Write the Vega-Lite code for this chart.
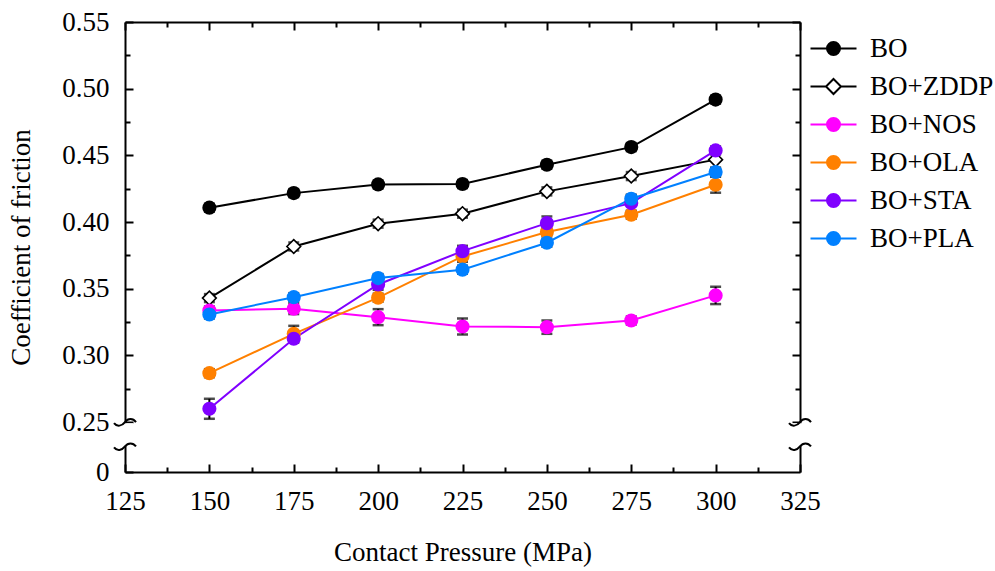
{
  "$schema": "https://vega.github.io/schema/vega-lite/v6.json",
  "width": 675,
  "height": 450,
  "autosize": {"type": "none"},
  "padding": {"left": 125, "top": 22, "right": 195, "bottom": 99},
  "background": "white",
  "config": {
    "view": {"stroke": null},
    "font": "Liberation Serif",
    "legend": {"labelFont": "Liberation Serif", "labelFontSize": 27, "labelColor": "black"},
    "axis": {
      "grid": false,
      "domainColor": "black",
      "domainWidth": 2,
      "tickColor": "black",
      "tickWidth": 2,
      "labelFont": "Liberation Serif",
      "labelFontSize": 27,
      "labelColor": "black",
      "titleFont": "Liberation Serif",
      "titleFontSize": 27,
      "titleFontWeight": "normal",
      "titleColor": "black"
    }
  },
  "data": {
    "values": [
      {"p": 150, "s": "BO", "v": 0.4108, "e": 0.003},
      {"p": 175, "s": "BO", "v": 0.4217, "e": 0.003},
      {"p": 200, "s": "BO", "v": 0.4282, "e": 0.003},
      {"p": 225, "s": "BO", "v": 0.4285, "e": 0.003},
      {"p": 250, "s": "BO", "v": 0.443, "e": 0.003},
      {"p": 275, "s": "BO", "v": 0.4562, "e": 0.003},
      {"p": 300, "s": "BO", "v": 0.4918, "e": 0.003},
      {"p": 150, "s": "BO+ZDDP", "v": 0.343, "e": 0.003},
      {"p": 175, "s": "BO+ZDDP", "v": 0.3817, "e": 0.003},
      {"p": 200, "s": "BO+ZDDP", "v": 0.3988, "e": 0.003},
      {"p": 225, "s": "BO+ZDDP", "v": 0.4063, "e": 0.003},
      {"p": 250, "s": "BO+ZDDP", "v": 0.423, "e": 0.003},
      {"p": 275, "s": "BO+ZDDP", "v": 0.4345, "e": 0.003},
      {"p": 300, "s": "BO+ZDDP", "v": 0.4468, "e": 0.006},
      {"p": 150, "s": "BO+NOS", "v": 0.3337, "e": 0.003},
      {"p": 175, "s": "BO+NOS", "v": 0.335, "e": 0.004},
      {"p": 200, "s": "BO+NOS", "v": 0.3287, "e": 0.006},
      {"p": 225, "s": "BO+NOS", "v": 0.3217, "e": 0.006},
      {"p": 250, "s": "BO+NOS", "v": 0.3212, "e": 0.005},
      {"p": 275, "s": "BO+NOS", "v": 0.3262, "e": 0.003},
      {"p": 300, "s": "BO+NOS", "v": 0.345, "e": 0.0065},
      {"p": 150, "s": "BO+OLA", "v": 0.2867, "e": 0.003},
      {"p": 175, "s": "BO+OLA", "v": 0.3162, "e": 0.006},
      {"p": 200, "s": "BO+OLA", "v": 0.3433, "e": 0.003},
      {"p": 225, "s": "BO+OLA", "v": 0.3742, "e": 0.004},
      {"p": 250, "s": "BO+OLA", "v": 0.3925, "e": 0.003},
      {"p": 275, "s": "BO+OLA", "v": 0.4055, "e": 0.003},
      {"p": 300, "s": "BO+OLA", "v": 0.428, "e": 0.006},
      {"p": 150, "s": "BO+STA", "v": 0.26, "e": 0.0075},
      {"p": 175, "s": "BO+STA", "v": 0.3125, "e": 0.003},
      {"p": 200, "s": "BO+STA", "v": 0.3532, "e": 0.004},
      {"p": 225, "s": "BO+STA", "v": 0.3782, "e": 0.004},
      {"p": 250, "s": "BO+STA", "v": 0.3992, "e": 0.005},
      {"p": 275, "s": "BO+STA", "v": 0.4142, "e": 0.006},
      {"p": 300, "s": "BO+STA", "v": 0.4537, "e": 0.003},
      {"p": 150, "s": "BO+PLA", "v": 0.3307, "e": 0.003},
      {"p": 175, "s": "BO+PLA", "v": 0.3437, "e": 0.003},
      {"p": 200, "s": "BO+PLA", "v": 0.358, "e": 0.003},
      {"p": 225, "s": "BO+PLA", "v": 0.3643, "e": 0.003},
      {"p": 250, "s": "BO+PLA", "v": 0.3845, "e": 0.003},
      {"p": 275, "s": "BO+PLA", "v": 0.4175, "e": 0.003},
      {"p": 300, "s": "BO+PLA", "v": 0.4375, "e": 0.003}
    ]
  },
  "layer": [
    {
      "layer": [
        {
          "mark": {"type": "errorbar", "color": "black", "rule": {"strokeWidth": 2}, "ticks": {"size": 11, "thickness": 2.5}},
          "encoding": {
            "x": {"field": "p", "type": "quantitative", "scale": {"domain": [125, 325], "nice": false, "zero": false},
              "axis": {
                "orient": "bottom",
                "values": [125, 150, 175, 200, 225, 250, 275, 300, 325],
                "labelOverlap": false,
                "labelFont": "Liberation Serif",
                "titleFont": "Liberation Serif",
                "tickSize": -8,
                "labelPadding": 24,
                "labelFlush": false,
                "title": "Contact Pressure (MPa)",
                "titlePadding": 25
              }
            },
            "y": {"field": "v", "type": "quantitative", "scale": {"domain": [0.2126, 0.55], "nice": false, "zero": false},
              "axis": {
                "orient": "left",
                "values": [0.2126, 0.25, 0.3, 0.35, 0.4, 0.45, 0.5, 0.55],
                "format": ".2f",
                "labelExpr": "datum.value < 0.24 ? '0' : datum.label",
                "labelOverlap": false,
                "labelFlush": false,
                "labelFont": "Liberation Serif",
                "titleFont": "Liberation Serif",
                "tickSize": -8,
                "labelPadding": 24,
                "title": "Coefficient of friction",
                "titlePadding": 26
              }
            },
            "yError": {"field": "e"}
          }
        },
        {
          "mark": {"type": "line", "strokeWidth": 2},
          "encoding": {
            "x": {"field": "p", "type": "quantitative", "title": "Contact Pressure (MPa)"},
            "y": {"field": "v", "type": "quantitative", "title": "Coefficient of friction"},
            "color": {"field": "s", "type": "nominal", "legend": null,
              "scale": {"domain": ["BO+PLA", "BO+STA", "BO+OLA", "BO+NOS", "BO+ZDDP", "BO"], "range": ["#0080FF", "#8000FF", "#FF8000", "#FF00FF", "#000000", "#000000"]}},
            "order": {"field": "p", "type": "quantitative"}
          }
        },
        {
          "transform": [{"filter": "datum.s === 'BO+ZDDP'"}],
          "mark": {"type": "point", "shape": "diamond", "filled": true, "fill": "white", "stroke": "black", "strokeWidth": 1.6, "size": 190, "opacity": 1},
          "encoding": {
            "x": {"field": "p", "type": "quantitative", "title": "Contact Pressure (MPa)"},
            "y": {"field": "v", "type": "quantitative", "title": "Coefficient of friction"}
          }
        },
        {
          "transform": [{"filter": "datum.s !== 'BO+ZDDP'"}],
          "mark": {"type": "point", "shape": "circle", "filled": true, "size": 200, "opacity": 1},
          "encoding": {
            "x": {"field": "p", "type": "quantitative", "title": "Contact Pressure (MPa)"},
            "y": {"field": "v", "type": "quantitative", "title": "Coefficient of friction"},
            "color": {"field": "s", "type": "nominal", "legend": null}
          }
        },
        {
          "transform": [{"filter": "datum.p < 0"}],
          "mark": {"type": "point", "filled": true, "size": 4, "strokeWidth": 2, "opacity": 1},
          "encoding": {
            "x": {"field": "p", "type": "quantitative", "title": "Contact Pressure (MPa)"},
            "y": {"field": "v", "type": "quantitative", "title": "Coefficient of friction"},
            "fill": {"field": "s", "type": "nominal",
              "scale": {"domain": ["BO", "BO+ZDDP", "BO+NOS", "BO+OLA", "BO+STA", "BO+PLA"], "range": ["#000000", "#FFFFFF", "#FF00FF", "#FF8000", "#8000FF", "#0080FF"]},
              "legend": {
                "orient": "none",
                "legendX": 695,
                "legendY": 13,
                "title": null,
                "padding": 0,
                "labelFont": "Liberation Serif",
                "labelFontSize": 27,
                "labelColor": "black",
                "symbolSize": 4,
                "symbolStrokeWidth": 2,
                "labelOffset": 23,
                "rowPadding": 10
              }
            },
            "stroke": {"field": "s", "type": "nominal",
              "scale": {"domain": ["BO", "BO+ZDDP", "BO+NOS", "BO+OLA", "BO+STA", "BO+PLA"], "range": ["#000000", "#000000", "#FF00FF", "#FF8000", "#8000FF", "#0080FF"]}},
            "shape": {"field": "s", "type": "nominal",
              "scale": {"domain": ["BO", "BO+ZDDP", "BO+NOS", "BO+OLA", "BO+STA", "BO+PLA"],
                "range": [
                  "M-23,0H23M6.5,0A6.5,6.5 0 1 1 -6.5,0A6.5,6.5 0 1 1 6.5,0Z",
                  "M-23,0H-7.5M7.5,0H23M0,-7.5L7.5,0L0,7.5L-7.5,0Z",
                  "M-23,0H23M6.5,0A6.5,6.5 0 1 1 -6.5,0A6.5,6.5 0 1 1 6.5,0Z",
                  "M-23,0H23M6.5,0A6.5,6.5 0 1 1 -6.5,0A6.5,6.5 0 1 1 6.5,0Z",
                  "M-23,0H23M6.5,0A6.5,6.5 0 1 1 -6.5,0A6.5,6.5 0 1 1 6.5,0Z",
                  "M-23,0H23M6.5,0A6.5,6.5 0 1 1 -6.5,0A6.5,6.5 0 1 1 6.5,0Z"
                ]}}
          }
        },
        {
          "data": {"values": [{}]},
          "mark": {"type": "rect", "fill": "white"},
          "encoding": {
            "x": {"datum": 122.5, "type": "quantitative"},
            "x2": {"datum": 127.5},
            "y": {"datum": 0.2492, "type": "quantitative"},
            "y2": {"datum": 0.2322}
          }
        },
        {
          "data": {"values": [{}]},
          "mark": {"type": "rect", "fill": "white"},
          "encoding": {
            "x": {"datum": 322.5, "type": "quantitative"},
            "x2": {"datum": 327.5},
            "y": {"datum": 0.2492, "type": "quantitative"},
            "y2": {"datum": 0.2322}
          }
        },
        {
          "data": {"values": [{}]},
          "mark": {"type": "point", "shape": "M-11,1C-8,5 -3,4 0,0C3,-4 8,-4 11,0", "size": 4, "filled": false, "stroke": "black", "strokeWidth": 2, "opacity": 1},
          "encoding": {"x": {"datum": 125, "type": "quantitative"}, "y": {"datum": 0.25, "type": "quantitative"}}
        },
        {
          "data": {"values": [{}]},
          "mark": {"type": "point", "shape": "M-11,1C-8,5 -3,4 0,0C3,-4 8,-4 11,0", "size": 4, "filled": false, "stroke": "black", "strokeWidth": 2, "opacity": 1},
          "encoding": {"x": {"datum": 325, "type": "quantitative"}, "y": {"datum": 0.25, "type": "quantitative"}}
        },
        {
          "data": {"values": [{}]},
          "mark": {"type": "point", "shape": "M-11,1C-8,5 -3,4 0,0C3,-4 8,-4 11,0", "size": 4, "filled": false, "stroke": "black", "strokeWidth": 2, "opacity": 1},
          "encoding": {"x": {"datum": 125, "type": "quantitative"}, "y": {"datum": 0.2318, "type": "quantitative"}}
        },
        {
          "data": {"values": [{}]},
          "mark": {"type": "point", "shape": "M-11,1C-8,5 -3,4 0,0C3,-4 8,-4 11,0", "size": 4, "filled": false, "stroke": "black", "strokeWidth": 2, "opacity": 1},
          "encoding": {"x": {"datum": 325, "type": "quantitative"}, "y": {"datum": 0.2318, "type": "quantitative"}}
        }
      ]
    },
    {
      "mark": {"type": "point", "opacity": 0},
      "encoding": {
        "x": {"field": "p", "type": "quantitative", "scale": {"domain": [125, 325], "nice": false, "zero": false},
          "axis": {"orient": "top", "values": [125, 150, 175, 200, 225, 250, 275, 300, 325], "labels": false, "tickSize": -8, "title": null}
        },
        "y": {"field": "v", "type": "quantitative", "scale": {"domain": [0.2126, 0.55], "nice": false, "zero": false},
          "axis": {"orient": "right", "values": [0.25, 0.3, 0.35, 0.4, 0.45, 0.5, 0.55], "labels": false, "tickSize": -8, "title": null}
        }
      }
    },
    {
      "mark": {"type": "point", "opacity": 0},
      "encoding": {
        "x": {"field": "p", "type": "quantitative", "scale": {"domain": [125, 325], "nice": false, "zero": false},
          "axis": {"orient": "bottom", "values": [137.5, 162.5, 187.5, 212.5, 237.5, 262.5, 287.5, 312.5], "labels": false, "domain": false, "tickSize": -5, "title": null}
        },
        "y": {"field": "v", "type": "quantitative", "scale": {"domain": [0.2126, 0.55], "nice": false, "zero": false},
          "axis": {"orient": "left", "values": [0.275, 0.325, 0.375, 0.425, 0.475, 0.525], "labels": false, "domain": false, "tickSize": -5, "title": null}
        }
      }
    },
    {
      "mark": {"type": "point", "opacity": 0},
      "encoding": {
        "x": {"field": "p", "type": "quantitative", "scale": {"domain": [125, 325], "nice": false, "zero": false},
          "axis": {"orient": "top", "values": [137.5, 162.5, 187.5, 212.5, 237.5, 262.5, 287.5, 312.5], "labels": false, "domain": false, "tickSize": -5, "title": null}
        },
        "y": {"field": "v", "type": "quantitative", "scale": {"domain": [0.2126, 0.55], "nice": false, "zero": false},
          "axis": {"orient": "right", "values": [0.275, 0.325, 0.375, 0.425, 0.475, 0.525], "labels": false, "domain": false, "tickSize": -5, "title": null}
        }
      }
    }
  ],
  "resolve": {"axis": {"x": "independent", "y": "independent"}}
}
